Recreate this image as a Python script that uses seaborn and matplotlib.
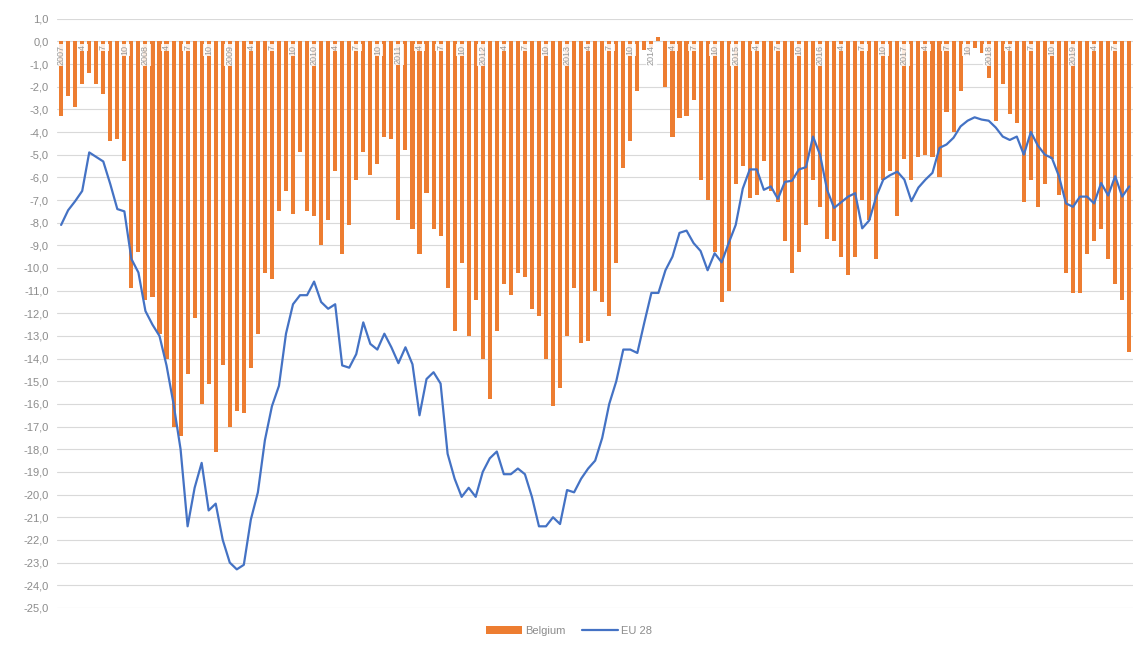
import matplotlib
matplotlib.use("Agg")
import matplotlib.pyplot as plt
import seaborn as sns
import pandas as pd

# monthly values, Jan 2007 .. Sep 2019
belgium = [
    -3.3, -2.4, -2.9, -1.9, -1.4, -1.9, -2.3, -4.4, -4.3, -5.3, -10.9, -9.3,
    -11.4, -11.3, -12.9, -14.0, -17.0, -17.4, -14.7, -12.2, -16.0, -15.1, -18.1, -14.3,
    -17.0, -16.3, -16.4, -14.4, -12.9, -10.2, -10.5, -7.5, -6.6, -7.6, -4.9, -7.5,
    -7.7, -9.0, -7.9, -5.7, -9.4, -8.1, -6.1, -4.9, -5.9, -5.4, -4.2, -4.3,
    -7.9, -4.8, -8.3, -9.4, -6.7, -8.3, -8.6, -10.9, -12.8, -9.8, -13.0, -11.4,
    -14.0, -15.8, -12.8, -10.7, -11.2, -10.2, -10.4, -11.8, -12.1, -14.0, -16.1, -15.3,
    -13.0, -10.9, -13.3, -13.2, -11.0, -11.5, -12.1, -9.8, -5.6, -4.4, -2.2, -0.4,
    -0.3, 0.2, -2.0, -4.2, -3.4, -3.3, -2.6, -6.1, -7.0, -9.3, -11.5, -11.0,
    -6.3, -5.5, -6.9, -6.8, -5.3, -6.6, -7.1, -8.8, -10.2, -9.3, -8.1, -6.1,
    -7.3, -8.7, -8.8, -9.5, -10.3, -9.5, -7.0, -7.9, -9.6, -6.1, -5.7, -7.7,
    -5.2, -6.1, -5.1, -5.0, -5.1, -6.0, -3.1, -4.0, -2.2, -0.6, -0.3, -0.5,
    -1.6, -3.5, -1.9, -3.2, -3.6, -7.1, -6.1, -7.3, -6.3, -5.2, -6.8, -10.2,
    -11.1, -11.1, -9.4, -8.8, -8.3, -9.6, -10.7, -11.4, -13.7,
]
eu28 = [
    -8.1, -7.45, -7.05, -6.6, -4.9, -5.1, -5.3, -6.3, -7.4, -7.5, -9.6, -10.2,
    -11.9, -12.5, -13.0, -14.3, -16.0, -18.0, -21.4, -19.7, -18.6, -20.7, -20.4, -22.0,
    -23.0, -23.3, -23.1, -21.1, -19.9, -17.6, -16.1, -15.2, -12.9, -11.6, -11.2, -11.2,
    -10.6, -11.5, -11.8, -11.6, -14.3, -14.4, -13.8, -12.4, -13.35, -13.6, -12.9, -13.5,
    -14.2, -13.5, -14.25, -16.5, -14.9, -14.6, -15.1, -18.2, -19.3, -20.1, -19.7, -20.1,
    -19.0, -18.4, -18.1, -19.1, -19.1, -18.85, -19.1, -20.1, -21.4, -21.4, -21.0, -21.3,
    -19.8, -19.9, -19.3, -18.85, -18.5, -17.5, -16.0, -15.0, -13.6, -13.6, -13.75, -12.4,
    -11.1, -11.1, -10.1, -9.5, -8.45, -8.35, -8.9, -9.25, -10.1, -9.35, -9.75, -8.9,
    -8.1, -6.5, -5.65, -5.65, -6.55, -6.4, -6.95, -6.2, -6.15, -5.65, -5.55, -4.2,
    -5.0, -6.55, -7.35, -7.1, -6.85, -6.7, -8.25, -7.9, -6.85, -6.1, -5.9, -5.75,
    -6.1, -7.05, -6.45, -6.1, -5.8, -4.7, -4.55, -4.25, -3.75, -3.5, -3.35, -3.45,
    -3.5, -3.8, -4.2, -4.35, -4.2, -5.0, -4.0, -4.6, -5.0, -5.15, -5.95, -7.15,
    -7.3, -6.85, -6.85, -7.15, -6.25, -6.8, -5.95, -6.85, -6.4,
]
years = [str(y) for y in range(2007, 2020)]
quarter_months = ["4", "7", "10"]

df = pd.DataFrame({"idx": range(len(belgium)), "Belgium": belgium, "EU 28": eu28})

sns.set_style("white")
plt.rcParams["font.family"] = ["Liberation Sans", "DejaVu Sans"]

fig = plt.figure(figsize=(11.38, 6.46), dpi=100)
ax = fig.add_axes([0.050, 0.059, 0.946, 0.912])

sns.barplot(data=df, x="idx", y="Belgium", color="#ED7D31", saturation=1,
            width=0.58, linewidth=0, ax=ax, label="Belgium")
sns.lineplot(data=df, x="idx", y="EU 28", color="#4472C4", linewidth=1.6,
             ax=ax, label="EU 28")

ax.set_ylim(-25, 1)
ax.set_xlim(-0.6, len(belgium) - 0.4)
ax.set_yticks(range(-25, 2))
ax.set_yticklabels([f"{v},0" for v in range(-25, 2)], fontsize=8, color="#8C8C8C")
ax.set_xticks([])
ax.set_xlabel("")
ax.set_ylabel("")
ax.grid(axis="y", color="#D9D9D9", linewidth=0.8)
ax.set_axisbelow(True)
for s in ax.spines.values():
    s.set_visible(False)
ax.tick_params(axis="y", length=0, pad=6)

# category labels sitting just under the zero line
for i in range(len(belgium)):
    m = i % 12
    if m == 0:
        txt = years[i // 12]
    elif m % 3 == 0:
        txt = quarter_months[m // 3 - 1]
    else:
        continue
    ax.text(i, -0.15, txt, rotation=90, ha="center", va="top", fontsize=6.5,
            color="#999999", zorder=5,
            bbox=dict(facecolor="white", edgecolor="none", pad=0.6, alpha=0.85))

h, l = ax.get_legend_handles_labels()
if ax.get_legend():
    ax.get_legend().remove()
order = [l.index("Belgium"), l.index("EU 28")]
fig.legend([h[k] for k in order], [l[k] for k in order], loc="lower center",
           bbox_to_anchor=(0.5, 0.0), ncol=2, frameon=False, fontsize=8,
           labelcolor="#8C8C8C", handlelength=3.2, columnspacing=1.5,
           handletextpad=0.3)

fig.savefig("out.png", dpi=100)
